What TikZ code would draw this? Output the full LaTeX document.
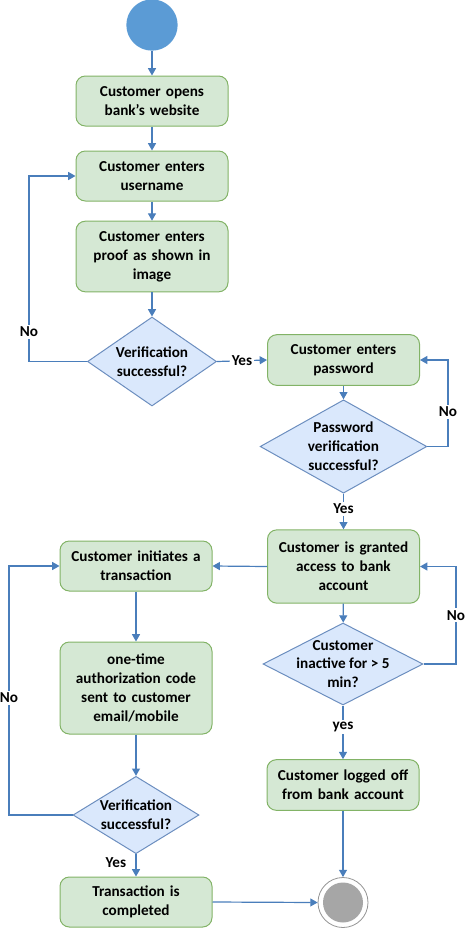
\documentclass[tikz,border=0pt]{standalone}
\usepackage{fontspec}
\setmainfont{Carlito}
\usetikzlibrary{shapes.geometric,arrows.meta}
\definecolor{gfill}{HTML}{D5E8D4}
\definecolor{gline}{HTML}{82B366}
\definecolor{bfill}{HTML}{DAE8FC}
\definecolor{bline}{HTML}{6C8EBF}
\definecolor{arr}{HTML}{4A7EBB}
\definecolor{startc}{HTML}{5B9BD5}
\definecolor{endc}{HTML}{A6A6A6}
\begin{document}
\begin{tikzpicture}[x=0.75pt,y=-0.75pt,
  every node/.style={font=\fontsize{11.4}{14.2}\selectfont\bfseries},
  stepbox/.style={draw=gline,fill=gfill,rounded corners=7pt,line width=0.75pt,
    minimum width=114pt,align=center,text width=108pt,inner sep=0pt},
  decision/.style={draw=bline,fill=bfill,diamond,line width=0.75pt,inner sep=0pt},
  dtext/.style={align=center,inner sep=0pt},
  flow/.style={draw=arr,line width=0.9pt,-{Triangle[width=6pt,length=5.5pt]}},
  lbl/.style={fill=white,inner sep=1.5pt}]
\useasboundingbox (0,0) rectangle (466,929);
% start
\node[circle,fill=startc,minimum size=38.5pt,inner sep=0pt] (start) at (152,25) {};
% left column top
\node[stepbox,minimum height=37.5pt] (b1) at (152,101) {Customer opens\\bank’s website};
\node[stepbox,minimum height=37.5pt] (b2) at (152,176) {Customer enters\\username};
\node[stepbox,minimum height=53pt] (b3) at (152,256.5) {Customer enters\\proof as shown in\\image};
\node[decision,minimum width=96.75pt,minimum height=66.75pt,
  label={[dtext]center:Verification\\successful?}] (d1) at (152,361.5) {};
% right column
\node[stepbox,minimum height=38pt] (b4) at (343.5,360) {Customer enters\\password};
\node[decision,minimum width=125pt,minimum height=70pt,
  label={[dtext]center:Password\\verification\\successful?}] (d2) at (343.5,446.5) {};
\node[stepbox,minimum height=55pt] (b5) at (343.5,566.5) {Customer is granted\\access to bank\\account};
\node[decision,minimum width=120pt,minimum height=61.5pt,
  label={[dtext]center:Customer\\inactive for > 5\\min?}] (d3) at (343,664) {};
\node[stepbox,minimum height=38pt] (b6) at (343,785) {Customer logged off\\from bank account};
% end
\node[circle,draw=endc!90!black,fill=white,line width=0.6pt,minimum size=37.5pt,inner sep=0pt] (endo) at (343,902.5) {};
\node[circle,fill=endc,minimum size=30pt,inner sep=0pt] (endi) at (343,902.5) {};
% left column bottom
\node[stepbox,minimum height=37.5pt] (b7) at (136,566) {Customer initiates a\\transaction};
\node[stepbox,minimum height=69pt] (b8) at (136,688) {one-time\\authorization code\\sent to customer\\email/mobile};
\node[decision,minimum width=94.5pt,minimum height=58pt,
  label={[dtext]center:Verification\\successful?}] (d4) at (136,815) {};
\node[stepbox,minimum height=37.5pt] (b9) at (136,902) {Transaction is\\completed};
% helper coordinates
\coordinate (n1) at (29,361.5);
\coordinate (n1t) at (29,176);
\coordinate (n2) at (448,446.5);
\coordinate (n2t) at (448,360);
\coordinate (n3) at (456,664);
\coordinate (n3t) at (456,566.5);
\coordinate (n4) at (9,815);
\coordinate (n4t) at (9,566);
% connectors
\draw[flow] (start) -- (b1);
\draw[flow] (b1) -- (b2);
\draw[flow] (b2) -- (b3);
\draw[flow] (b3) -- (d1);
\draw[flow] (d1.west) -- (n1) -- node[lbl,pos=0.16]{No} (n1t) -- (b2.west);
\draw[flow] (d1.east) -- node[lbl,pos=0.5]{Yes} (b4.west);
\draw[flow] (b4) -- (d2);
\draw[flow] (d2.east) -- (n2) -- node[lbl,pos=0.4]{No} (n2t) -- (b4.east);
\draw[flow] (d2.south) -- node[lbl,pos=0.42]{Yes} (b5.north);
\draw[flow] (b5) -- (d3);
\draw[flow] (d3.east) -- (n3) -- node[lbl,pos=0.5]{No} (n3t) -- (b5.east);
\draw[flow] (d3.south) -- node[lbl,pos=0.4]{yes} (b6.north);
\draw[flow] (b6.south) -- (endo.north);
\draw[flow] (b5.west) -- (b7.east);
\draw[flow] (b7) -- (b8);
\draw[flow] (b8) -- (d4);
\draw[flow] (d4.west) -- (n4) -- node[lbl,pos=0.47]{No} (n4t) -- (b7.west);
\draw[flow] (d4.south) -- node[left=6pt,pos=0.4,inner sep=1pt]{Yes} (b9.north);
\draw[flow] (b9.east) -- (endo.west);
\end{tikzpicture}
\end{document}
